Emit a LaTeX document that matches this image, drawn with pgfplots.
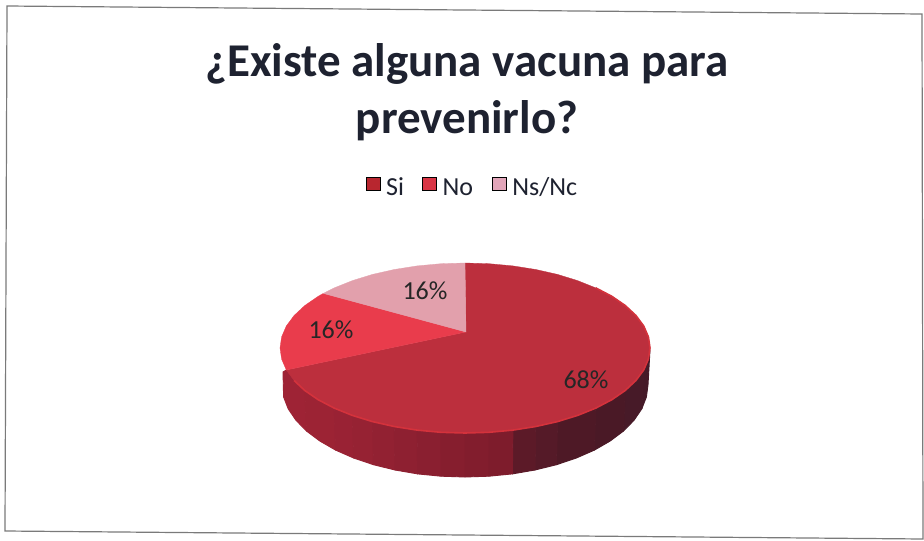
\documentclass[border=0pt]{standalone}
\usepackage{pgfplots}
\pgfplotsset{compat=1.18}
\usepackage{fontspec}
\setmainfont{Carlito}
\definecolor{siC}{HTML}{BC2F3D}
\definecolor{noC}{HTML}{E93C4C}
\definecolor{nsC}{HTML}{E2A0AC}
\definecolor{txt}{HTML}{1E2230}
\newcommand\strip[2]{\addplot[fill=#1,draw=#1,line width=.9pt,line join=round,forget plot] coordinates {#2} -- cycle;}
\begin{document}
\begin{tikzpicture}
\begin{axis}[
  scale only axis, width=924pt, height=541pt,
  xmin=0, xmax=924, ymin=0, ymax=541, y dir=reverse,
  hide axis, clip=false,
  legend columns=3,
  legend style={at={(axis cs:471.5,187)}, anchor=center, draw=none, fill=none,
    font=\fontsize{26}{28}\selectfont, text=txt, inner sep=0pt,
    nodes={inner sep=0pt},
    /tikz/column 1/.style={column sep=6pt},
    /tikz/column 2/.style={column sep=18pt},
    /tikz/column 3/.style={column sep=6pt},
    /tikz/column 4/.style={column sep=19pt},
    /tikz/column 5/.style={column sep=6pt}},
]
% page background
\addplot[fill=white,draw=none,forget plot] coordinates {(0,0)(924,0)(924,541)(0,541)} -- cycle;
% chart frame
\addplot[draw=black!52,line width=1.2pt,forget plot] coordinates {(7,6)(922,14)(923,539)(5,531)} -- cycle;
% side wall, strips from right to left
\definecolor{s0}{HTML}{451A28}\strip{s0}{(650,350)(648.4,359.1)(643.7,370)(641.8,408.8)(646.4,397)(648,385)}
\definecolor{s1}{HTML}{471A28}\strip{s1}{(643.7,370)(635.9,380.5)(625.2,390.5)(623.5,431)(634.1,420.2)(641.8,408.8)}
\definecolor{s2}{HTML}{4A1926}\strip{s2}{(625.2,390.5)(611.8,399.7)(595.8,408.1)(594.4,450.1)(610.2,441)(623.5,431)}
\definecolor{s3}{HTML}{4E1926}\strip{s3}{(595.8,408.1)(577.6,415.4)(557.5,421.6)(556.5,464.7)(576.4,458)(594.4,450.1)}
\definecolor{s4}{HTML}{551A28}\strip{s4}{(557.5,421.6)(535.8,426.5)(535,470)(556.5,464.7)}
\definecolor{s5}{HTML}{5C1A28}\strip{s5}{(535.8,426.5)(512.9,430.1)(512.4,473.9)(535,470)}
\definecolor{s15}{HTML}{9E2335}\strip{s15}{(304.8,390.5)(294.1,380.5)(286.3,370)(283,372)(283.6,397)(288.2,408.8)(295.9,420.2)(306.5,431)}
\definecolor{s14}{HTML}{9C2334}\strip{s14}{(334.2,408.1)(318.2,399.7)(304.8,390.5)(306.5,431)(319.8,441)(335.6,450.1)}
\definecolor{s13}{HTML}{992234}\strip{s13}{(352.4,415.4)(334.2,408.1)(335.6,450.1)(353.6,458)}
\definecolor{s12}{HTML}{962233}\strip{s12}{(372.5,421.6)(352.4,415.4)(353.6,458)(373.5,464.7)}
\definecolor{s11}{HTML}{922132}\strip{s11}{(394.2,426.5)(372.5,421.6)(373.5,464.7)(395,470)}
\definecolor{s10}{HTML}{8E2031}\strip{s10}{(417.1,430.1)(394.2,426.5)(395,470)(417.6,473.9)}
\definecolor{s9}{HTML}{8A1F30}\strip{s9}{(440.9,432.3)(417.1,430.1)(417.6,473.9)(441.1,476.2)}
\definecolor{s8}{HTML}{861E2E}\strip{s8}{(465,433)(440.9,432.3)(441.1,476.2)(465,477)}
\definecolor{s7}{HTML}{821D2D}\strip{s7}{(489.1,432.3)(465,433)(465,477)(488.9,476.2)}
\definecolor{s6}{HTML}{7E1C2C}\strip{s6}{(512.9,430.1)(489.1,432.3)(488.9,476.2)(512.4,473.9)}
% top face: Si 68
\addplot[fill=siC,draw=siC,line width=.3pt,forget plot] coordinates {
 (466,332)(465,263)(489.1,263.7)(512.9,265.9)(535.8,269.5)(557.5,274.4)(577.6,280.6)(595.8,287.9)(611.8,296.3)(625.2,305.5)(635.9,315.5)(643.7,326)(648.4,336.9)(650,348)
 (648.4,359.1)(643.7,370)(635.9,380.5)(625.2,390.5)(611.8,399.7)(595.8,408.1)(577.6,415.4)(557.5,421.6)(535.8,426.5)(512.9,430.1)(489.1,432.3)(465,433)
 (440.9,432.3)(417.1,430.1)(394.2,426.5)(372.5,421.6)(352.4,415.4)(334.2,408.1)(318.2,399.7)(304.8,390.5)(294.1,380.5)(286.3,370)} -- cycle;
% lighter rim of Si
\definecolor{rimC}{HTML}{D4323C}
\addplot[draw=rimC,line width=1.6pt,forget plot] coordinates {
 (595.8,287.9)(611.8,296.3)(625.2,305.5)(635.9,315.5)(643.7,326)(648.4,336.9)(650,348)
 (648.4,359.1)(643.7,370)(635.9,380.5)(625.2,390.5)(611.8,399.7)(595.8,408.1)(577.6,415.4)(557.5,421.6)(535.8,426.5)(512.9,430.1)(489.1,432.3)(465,433)
 (440.9,432.3)(417.1,430.1)(394.2,426.5)(372.5,421.6)(352.4,415.4)(334.2,408.1)(318.2,399.7)(304.8,390.5)(294.1,380.5)};
% top face: No 16
\addplot[fill=noC,draw=noC,line width=.3pt,forget plot] coordinates {
 (466,332)(286.3,370)(281.6,359.1)(280,348)(281.6,336.9)(286.3,326)(294.1,315.5)(304.8,305.5)(318.2,296.3)(323.3,293.4)} -- cycle;
% top face: Ns/Nc 16
\addplot[fill=nsC,draw=nsC,line width=.3pt,forget plot] coordinates {
 (466,332)(323.3,293.4)(334.2,287.9)(352.4,280.6)(372.5,274.4)(394.2,269.5)(417.1,265.9)(440.9,263.7)(465,263)} -- cycle;
% legend
\addlegendimage{legend image code/.code={\fill[fill={rgb,255:red,184;green,38;blue,47}] (0pt,-2pt) rectangle (14pt,11pt);}}
\addlegendentry{Si}
\addlegendimage{legend image code/.code={\fill[fill={rgb,255:red,217;green,53;blue,69}] (0pt,-2pt) rectangle (14pt,11pt);}}
\addlegendentry{No}
\addlegendimage{legend image code/.code={\fill[fill={rgb,255:red,226;green,165;blue,185}] (0pt,-2pt) rectangle (14pt,11pt);}}
\addlegendentry{Ns/Nc}
% title
\node[text=txt,font=\fontsize{47}{47}\selectfont\bfseries,anchor=base] at (axis cs:467,76) {¿Existe alguna vacuna para};
\node[text=txt,font=\fontsize{47}{47}\selectfont\bfseries,anchor=base] at (axis cs:467,133) {prevenirlo?};
% data labels
\node[text=black!85,font=\fontsize{26}{26}\selectfont,anchor=center] at (axis cs:425,291) {16\%};
\node[text=black!85,font=\fontsize{26}{26}\selectfont,anchor=center] at (axis cs:331,330) {16\%};
\node[text=black!85,font=\fontsize{26}{26}\selectfont,anchor=center] at (axis cs:586,380) {68\%};
\end{axis}
\end{tikzpicture}
\end{document}
